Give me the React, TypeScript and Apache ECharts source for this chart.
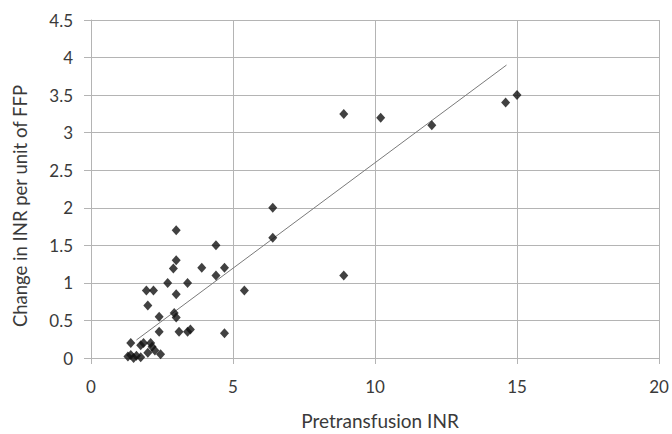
import React, { useEffect, useRef } from "react";
import * as echarts from "echarts";

const pretransfusionInr: number[] = [
  8.9, 10.2, 12.0, 14.6, 15.0,
  6.4, 6.4, 8.9, 5.4, 4.7, 4.7,
  4.4, 4.4, 3.9, 3.0, 3.0, 2.9,
  2.7, 3.4, 1.95, 2.2, 3.0, 2.0,
  2.4, 2.93, 3.0, 2.4, 3.1, 3.4, 3.5,
  1.4, 1.75, 1.85, 2.1, 2.15, 2.0, 2.45, 2.25,
  1.3, 1.4, 1.5, 1.6, 1.75,
];
const changePerUnit: number[] = [
  3.25, 3.2, 3.1, 3.4, 3.5,
  2.0, 1.6, 1.1, 0.9, 0.33, 1.2,
  1.5, 1.1, 1.2, 1.7, 1.3, 1.19,
  1.0, 1.0, 0.9, 0.9, 0.85, 0.7,
  0.55, 0.6, 0.54, 0.35, 0.35, 0.35, 0.38,
  0.2, 0.17, 0.2, 0.2, 0.15, 0.07, 0.05, 0.1,
  0.02, 0.04, 0.0, 0.03, 0.01,
];
const trendX: number[] = [1.6, 14.63];
const trendY: number[] = [0.24, 3.9];

const xTitle = "Pretransfusion INR";
const yTitle = "Change in INR per unit of FFP";

export default function App() {
  const ref = useRef<HTMLDivElement>(null);
  useEffect(() => {
    if (!ref.current) return;
    const chart = echarts.init(ref.current, undefined, { renderer: "svg" });
    const font = "Lato, 'Open Sans', sans-serif";
    const textColor = "#3a3a3a";
    const lineColor = "#b4b4b4";
    chart.setOption({
      animation: false,
      backgroundColor: "#ffffff",
      grid: { left: 91, right: 13, top: 20, bottom: 76, containLabel: false },
      graphic: [
        {
          type: "text",
          x: 380,
          y: 420,
          style: {
            text: xTitle,
            fontFamily: font,
            fontSize: 19,
            fill: textColor,
            textAlign: "center",
            textVerticalAlign: "middle",
          },
        },
        {
          type: "text",
          x: 20,
          y: 206,
          rotation: Math.PI / 2,
          style: {
            text: yTitle,
            fontFamily: font,
            fontSize: 18.5,
            fill: textColor,
            textAlign: "center",
            textVerticalAlign: "middle",
          },
        },
      ],
      xAxis: {
        type: "value",
        min: 0,
        max: 20,
        interval: 5,
        axisLine: { show: true, lineStyle: { color: lineColor, width: 1 } },
        axisTick: { show: true, inside: false, length: 6, lineStyle: { color: lineColor } },
        axisLabel: { margin: 20, fontFamily: font, fontSize: 17, color: textColor },
        splitLine: { show: true, lineStyle: { color: lineColor, width: 1 } },
      },
      yAxis: {
        type: "value",
        min: 0,
        max: 4.5,
        interval: 0.5,
        axisLine: { show: true, lineStyle: { color: lineColor, width: 1 } },
        axisTick: { show: true, inside: false, length: 7, lineStyle: { color: lineColor } },
        axisLabel: { margin: 18, fontFamily: font, fontSize: 17, color: textColor },
        splitLine: { show: true, lineStyle: { color: lineColor, width: 1 } },
      },
      series: [
        {
          type: "line",
          data: trendX.map((x, i) => [x, trendY[i]]),
          symbol: "none",
          lineStyle: { color: "#7a7a7a", width: 1 },
          z: 2,
        },
        {
          type: "scatter",
          data: pretransfusionInr.map((x, i) => [x, changePerUnit[i]]),
          symbol: "diamond",
          symbolSize: [9, 10],
          itemStyle: { color: "#111111" },
          z: 3,
        },
      ],
    });
    return () => chart.dispose();
  }, []);
  return (
    <div
      ref={ref}
      style={{ position: "absolute", left: 0, top: 0, width: 672, height: 434 }}
    />
  );
}
